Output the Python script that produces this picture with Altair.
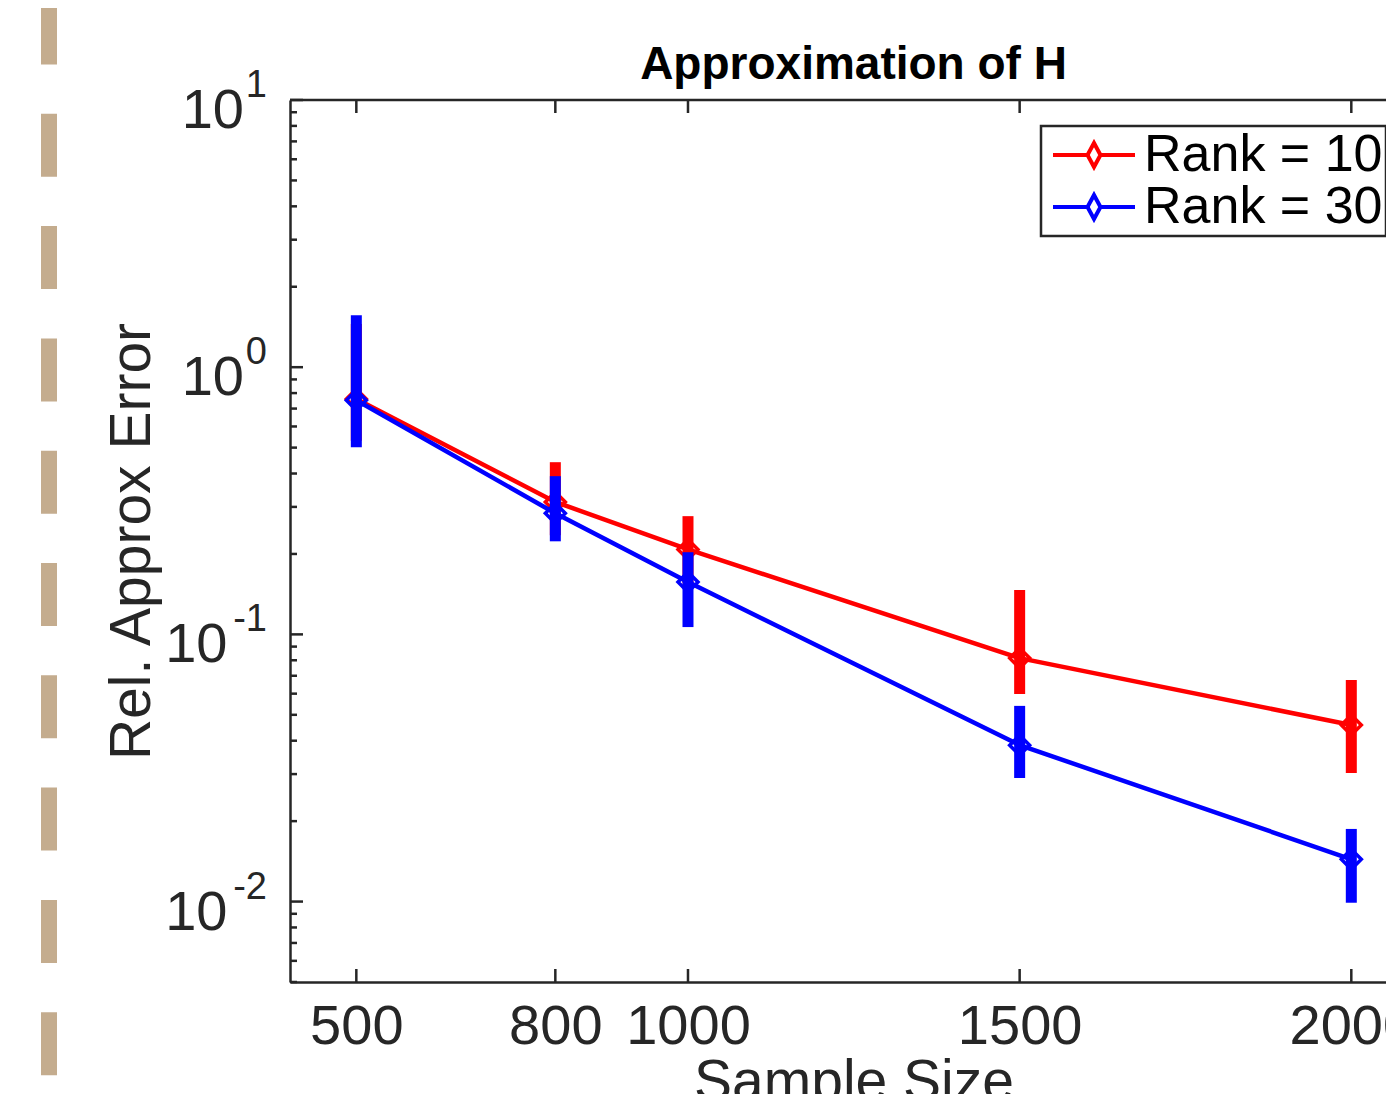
import altair as alt
import pandas as pd

# ---------------- data ----------------
sample_size = [500, 800, 1000, 1500, 2000]
rank10_mean = [0.76, 0.313, 0.208, 0.0815, 0.0458]
rank10_low = [0.53, 0.235, 0.155, 0.0598, 0.0303]
rank10_high = [1.45, 0.441, 0.277, 0.1465, 0.0675]
rank30_mean = [0.752, 0.284, 0.157, 0.0385, 0.0144]
rank30_low = [0.502, 0.223, 0.1065, 0.029, 0.0099]
rank30_high = [1.565, 0.391, 0.203, 0.054, 0.0187]
series_names = ["Rank = 10", "Rank = 30"]
series_colors = ["#FF0000", "#0000FF"]

x_ticks = [500, 800, 1000, 1500, 2000]
y_major = [10, 1, 0.1, 0.01]
y_exponents = ["1", "0", "-1", "-2"]
y_minor = [0.005, 0.006, 0.007, 0.008, 0.009,
           0.02, 0.03, 0.04, 0.05, 0.06, 0.07, 0.08, 0.09,
           0.2, 0.3, 0.4, 0.5, 0.6, 0.7, 0.8, 0.9,
           2, 3, 4, 5, 6, 7, 8, 9]
title_text = "Approximation of H"

# ---------------- style ----------------
FONT = "Liberation Sans"
AX = "#262626"
W, H = 1096, 882

df = pd.DataFrame({
    "n": sample_size * 2,
    "err": rank10_mean + rank30_mean,
    "lo": rank10_low + rank30_low,
    "hi": rank10_high + rank30_high,
    "series": [series_names[0]] * 5 + [series_names[1]] * 5,
})
one = pd.DataFrame({"a": [0]})

xscale = alt.Scale(domain=[400, 2052.3], nice=False, zero=False)
yscale = alt.Scale(type="log", domain=[0.005, 10], nice=False)

xaxis = alt.Axis(
    values=x_ticks, format="d", ticks=False, tickSize=0, grid=False,
    domain=True, domainColor=AX, domainWidth=2.5,
    labelFont=FONT, labelFontSize=56, labelColor=AX, labelPadding=61,
    labelBaseline="alphabetic", labelFlush=False, labelOverlap=False,
    title="Sample Size", titleFont=FONT, titleFontSize=57,
    titleFontWeight="normal", titleColor=AX, titleX=563.5, titleY=117,
    titleBaseline="alphabetic", titleAlign="center",
)
yaxis = alt.Axis(
    labels=False, ticks=False, tickSize=0, grid=False,
    domain=True, domainColor=AX, domainWidth=2.5,
    title="Rel. Approx Error", titleFont=FONT, titleFontSize=57,
    titleFontWeight="normal", titleColor=AX, titleX=-141, titleY=441,
    titleAngle=270, titleBaseline="alphabetic", titleAlign="center",
)

legend_path = ("M-0.854,0H-0.135M0.135,0H0.854"
               "M0,-0.25L0.135,0L0,0.25L-0.135,0Z")
legend = alt.Legend(
    title=None, orient="none", legendX=751, legendY=26,
    symbolType=legend_path, symbolSize=9216, symbolStrokeWidth=4,
    symbolFillColor="white", labelFont=FONT, labelFontSize=52,
    labelColor="black", labelLimit=600, labelOffset=0, padding=3,
    rowPadding=0, clipHeight=52, strokeColor=AX, fillColor="white",
)

# neighbouring-figure dashed divider
dash = alt.Chart(one).mark_rule(
    color="#C4AC8E", strokeWidth=16, strokeDash=[63, 49.3], strokeCap="butt"
).encode(x=alt.value(-241), y=alt.value(-98.5), y2=alt.value(1100))

top_line = alt.Chart(one).mark_rule(color=AX, strokeWidth=2.5).encode(
    x=alt.value(0), x2=alt.value(W), y=alt.value(0))

title_mark = alt.Chart(one).mark_text(
    align="center", baseline="alphabetic", font=FONT, fontSize=46,
    fontWeight="bold", color="black"
).encode(x=alt.value(563.5), y=alt.value(-21), text=alt.value(title_text))

ymaj_df = pd.DataFrame({"v": y_major, "e": y_exponents})
ymin_df = pd.DataFrame({"v": y_minor})
xt_df = pd.DataFrame({"n": x_ticks})

y_major_ticks = alt.Chart(ymaj_df).mark_rule(color=AX, strokeWidth=2.5).encode(
    y=alt.Y("v:Q", scale=yscale, axis=yaxis), x=alt.value(0), x2=alt.value(13))
y_minor_ticks = alt.Chart(ymin_df).mark_rule(color=AX, strokeWidth=2.5).encode(
    y=alt.Y("v:Q", scale=yscale, axis=yaxis), x=alt.value(0), x2=alt.value(7))
x_ticks_bottom = alt.Chart(xt_df).mark_rule(color=AX, strokeWidth=2.5).encode(
    x=alt.X("n:Q", scale=xscale, axis=xaxis), y=alt.value(H), y2=alt.value(H - 13))
x_ticks_top = alt.Chart(xt_df).mark_rule(color=AX, strokeWidth=2.5).encode(
    x=alt.X("n:Q", scale=xscale, axis=xaxis), y=alt.value(0), y2=alt.value(13))

exp_labels = alt.Chart(ymaj_df).mark_text(
    align="right", baseline="alphabetic", font=FONT, fontSize=38, color=AX, dy=-3
).encode(y=alt.Y("v:Q", scale=yscale, axis=yaxis), x=alt.value(-23), text="e:N")
base_pos = alt.Chart(ymaj_df).transform_filter("datum.v >= 1").mark_text(
    align="right", baseline="alphabetic", font=FONT, fontSize=56, color=AX, dy=28
).encode(y=alt.Y("v:Q", scale=yscale, axis=yaxis), x=alt.value(-46), text=alt.value("10"))
base_neg = alt.Chart(ymaj_df).transform_filter("datum.v < 1").mark_text(
    align="right", baseline="alphabetic", font=FONT, fontSize=56, color=AX, dy=28
).encode(y=alt.Y("v:Q", scale=yscale, axis=yaxis), x=alt.value(-62.5), text=alt.value("10"))

layers = [dash, top_line, title_mark, y_major_ticks, y_minor_ticks, x_ticks_bottom,
          x_ticks_top, exp_labels, base_pos, base_neg]

color_enc = alt.Color("series:N", scale=alt.Scale(domain=series_names, range=series_colors),
                      legend=legend)

for name, col in zip(series_names, series_colors):
    sub = df[df["series"] == name]
    errbar = alt.Chart(sub).mark_rule(strokeWidth=11, color=col, strokeCap="butt").encode(
        x=alt.X("n:Q", scale=xscale, axis=xaxis),
        y=alt.Y("lo:Q", scale=yscale, axis=yaxis),
        y2="hi:Q",
    )
    line = alt.Chart(sub).mark_line(strokeWidth=4.5).encode(
        x=alt.X("n:Q", scale=xscale, axis=xaxis),
        y=alt.Y("err:Q", scale=yscale, axis=yaxis),
        color=color_enc,
    )
    pts = alt.Chart(sub).mark_point(
        shape="diamond", size=400, strokeWidth=3.5, filled=False, color=col, opacity=1
    ).encode(
        x=alt.X("n:Q", scale=xscale, axis=xaxis),
        y=alt.Y("err:Q", scale=yscale, axis=yaxis),
    )
    layers += [errbar, line, pts]

chart = alt.layer(*layers).properties(
    width=W, height=H,
    padding={"left": 282, "top": 92, "right": 0, "bottom": 112},
    autosize=alt.AutoSizeParams(type="none"),
    background="white",
).configure_view(stroke="transparent").configure_legend(strokeWidth=2.5)

chart.save("out.html", embed_options={"renderer": "svg", "actions": False})
